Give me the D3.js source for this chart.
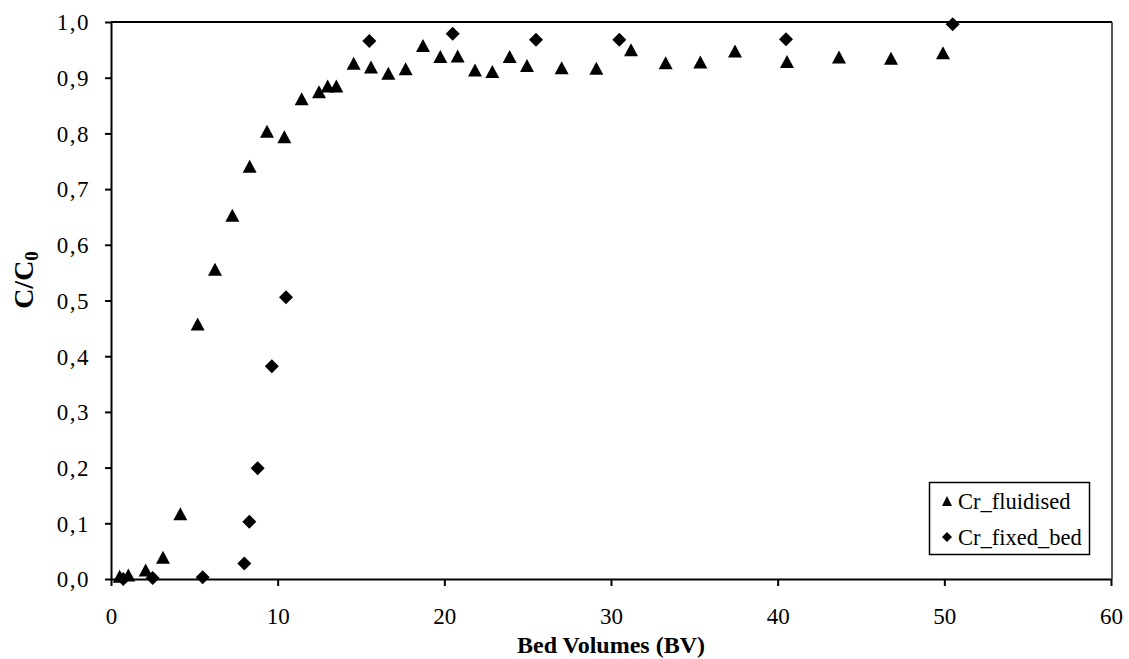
<!DOCTYPE html>
<html>
<head>
<meta charset="utf-8">
<script src="https://cdn.jsdelivr.net/npm/d3@7"></script>
<style>
  html, body { margin: 0; padding: 0; background: #fff; }
  svg { display: block; }
  text { font-family: "Liberation Serif", "Times New Roman", serif; fill: #000; }
</style>
</head>
<body>
<svg id="chart" width="1129" height="659"></svg>
<script>
// Breakthrough data: bed volumes passed vs. relative outlet concentration
const fluidisedBV = [0.52, 1.04, 2.08, 3.12, 4.16, 5.2, 6.24, 7.28, 8.32, 9.36, 10.4, 11.44, 12.48, 13.0, 13.52,
  14.56, 15.6, 16.64, 17.68, 18.72, 19.76, 20.8, 21.84, 22.88, 23.92, 24.96, 27.04, 29.12, 31.2,
  33.28, 35.36, 37.44, 40.56, 43.68, 46.8, 49.92];
const fluidisedC = [0.005, 0.007, 0.016, 0.039, 0.117, 0.458, 0.556, 0.653, 0.741, 0.804, 0.794, 0.862, 0.875, 0.885, 0.885,
  0.926, 0.919, 0.908, 0.916, 0.958, 0.938, 0.939, 0.914, 0.911, 0.938, 0.922, 0.918, 0.917, 0.950,
  0.927, 0.928, 0.948, 0.929, 0.937, 0.935, 0.945];

const fixedBV = [0.73, 2.5, 5.5, 8.0, 8.3, 8.8, 9.65, 10.5, 15.5, 20.5, 25.5, 30.5, 40.5, 50.5];
const fixedC = [0.0, 0.002, 0.003, 0.028, 0.103, 0.199, 0.382, 0.506, 0.966, 0.979, 0.968, 0.968, 0.969, 0.996];

const xTicks = [0, 10, 20, 30, 40, 50, 60];
const yTicks = [0, 0.1, 0.2, 0.3, 0.4, 0.5, 0.6, 0.7, 0.8, 0.9, 1.0];
const seriesNames = ["Cr_fluidised", "Cr_fixed_bed"];

const svg = d3.select("#chart");
const plotLeft = 111, plotRight = 1111, plotTop = 22, plotBottom = 579;

const x = d3.scaleLinear().domain([0, 60]).range([plotLeft, plotRight]);
const y = d3.scaleLinear().domain([0, 1]).range([plotBottom, plotTop]);

const TICK_FS = 23, TITLE_FS = 24, LEGEND_FS = 22.5;

// plot frame (top and right)
svg.append("line").attr("x1", plotLeft).attr("x2", plotRight + 1).attr("y1", plotTop).attr("y2", plotTop)
  .attr("stroke", "#000").attr("stroke-width", 2);
svg.append("line").attr("x1", plotRight + 1).attr("x2", plotRight + 1).attr("y1", plotTop).attr("y2", plotBottom)
  .attr("stroke", "#000").attr("stroke-width", 1.3);

// y axis
const yAxis = svg.append("g").attr("transform", `translate(${plotLeft},0)`)
  .call(d3.axisLeft(y).tickValues(yTicks).tickSize(6).tickSizeOuter(0).tickPadding(15)
    .tickFormat(d => d.toFixed(1).replace(".", ",")));
yAxis.select(".domain").attr("stroke", "#000").attr("stroke-width", 2);
yAxis.selectAll(".tick line").attr("stroke", "#000").attr("stroke-width", 2);
yAxis.selectAll(".tick text").attr("font-size", TICK_FS).attr("dy", "0.34em").attr("letter-spacing", 1.5);

// x axis
const xAxis = svg.append("g").attr("transform", `translate(0,${plotBottom})`)
  .call(d3.axisBottom(x).tickValues(xTicks).tickSize(7).tickSizeOuter(0).tickPadding(22));
xAxis.select(".domain").attr("stroke", "#000").attr("stroke-width", 2);
xAxis.selectAll(".tick line").attr("stroke", "#000").attr("stroke-width", 2);
xAxis.selectAll(".tick text").attr("font-size", TICK_FS);

// axis titles
svg.append("text").attr("x", (plotLeft + plotRight) / 2).attr("y", 653).attr("text-anchor", "middle")
  .attr("font-size", TITLE_FS).attr("font-weight", "bold").text("Bed Volumes (BV)");

const yt = svg.append("text").attr("transform", "translate(33,280) rotate(-90)")
  .attr("text-anchor", "middle").attr("font-size", 28).attr("font-weight", "bold");
yt.append("tspan").text("C/C");
yt.append("tspan").attr("font-size", 19).attr("dy", 5).text("0");

// marker shapes
const triPath = (w, h) => `M0,${-h / 2}L${w / 2},${h / 2}L${-w / 2},${h / 2}Z`;
const diaPath = s => `M0,${-s}L${s},0L0,${s}L${-s},0Z`;

const fluid = fluidisedBV.map((v, i) => ({ v, c: fluidisedC[i] }));
const fixed = fixedBV.map((v, i) => ({ v, c: fixedC[i] }));

svg.append("g").selectAll("path").data(fluid).join("path")
  .attr("d", triPath(14, 13))
  .attr("transform", d => `translate(${x(d.v)},${y(d.c)})`)
  .attr("fill", "#000");

svg.append("g").selectAll("path").data(fixed).join("path")
  .attr("d", diaPath(7))
  .attr("transform", d => `translate(${x(d.v)},${y(d.c)})`)
  .attr("fill", "#000");

// legend
const lg = svg.append("g");
lg.append("rect").attr("x", 929.5).attr("y", 482.5).attr("width", 160).attr("height", 72)
  .attr("fill", "#fff").attr("stroke", "#000").attr("stroke-width", 1.5);
lg.append("path").attr("d", triPath(10, 10)).attr("transform", "translate(947,501)").attr("fill", "#000");
lg.append("path").attr("d", diaPath(5)).attr("transform", "translate(947,537)").attr("fill", "#000");
lg.append("text").attr("x", 958).attr("y", 509).attr("font-size", LEGEND_FS).text(seriesNames[0]);
lg.append("text").attr("x", 958).attr("y", 545).attr("font-size", LEGEND_FS).text(seriesNames[1]);
</script>
</body>
</html>
